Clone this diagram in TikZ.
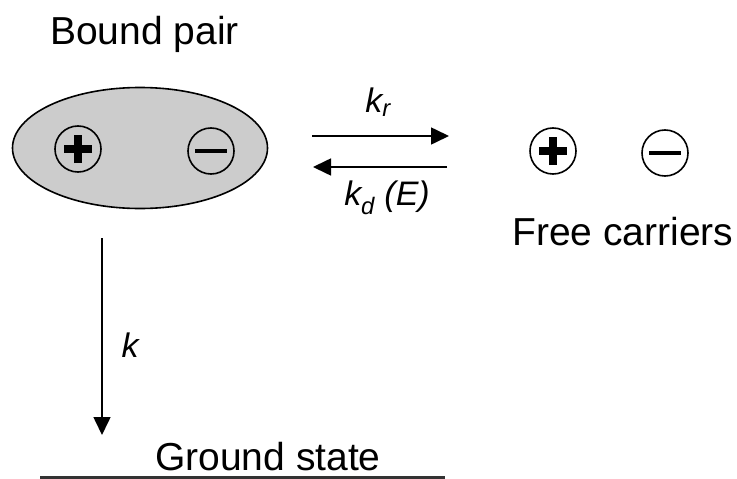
\documentclass[tikz,border=0pt]{standalone}
\usepackage{fontspec}
\setmainfont{Liberation Sans}
\usetikzlibrary{arrows.meta,shapes.geometric}
\tikzset{
	charge/.style={circle, draw, line width=1.6pt, minimum size=46pt, inner sep=0pt},
	plus/.style={charge, path picture={
			\draw[line width=8pt] (path picture bounding box.center) ++(-14pt,0pt) -- ++(28pt,0pt);
			\draw[line width=8pt] (path picture bounding box.center) ++(0pt,-14pt) -- ++(0pt,28pt);}},
	minus/.style={charge, path picture={
			\draw[line width=4.5pt] (path picture bounding box.center) ++(-16pt,0pt) -- ++(32pt,0pt);}},
	rate/.style={line width=1.6pt, -{Triangle[length=18pt,width=17pt]}},
	big/.style={font=\fontsize{39}{46}\selectfont, inner sep=0pt},
	lbl/.style={font=\fontsize{34}{40}\selectfont\itshape, inner sep=0pt}
}
\begin{document}
\begin{tikzpicture}[x=1pt, y=-1pt, line join=round]
	\useasboundingbox (0,0) rectangle (737,479);
	% Cap gan ket
	\node[ellipse, draw, line width=1.6pt, fill=gray!40, minimum width=255pt, minimum height=121pt] (pair) at (140,148) {};
	\node[plus] (h1) at (78,149) {};
	\node[minus] (e1) at (211,151) {};
	\node[big, anchor=base west] (tpair) at (50,45) {Bound pair};
	
	% Hat tai tu do
	\node[plus] (h2) at (553,151) {};
	\node[minus] (e2) at (665,153) {};
	\node[big, anchor=base west] (tfree) at (512,245) {Free carriers};
	
	% Cac diem dau mui ten
	\coordinate (r1) at (312,136);
	\coordinate (r2) at (449,136);
	\coordinate (d1) at (447,167);
	\coordinate (d2) at (313,167);
	\coordinate (g1) at (102,238);
	\coordinate (g2) at (102,435);
	
	% Cac mui ten
	\draw[rate] (r1) -- (r2);
	\draw[rate] (d1) -- (d2);
	\draw[rate] (g1) -- (g2);
	
	% Hang so toc do
	\node[lbl] (kr) at (378,102) {k\textsubscript{r}};
	\node[lbl] (kd) at (387,198) {k\textsubscript{d} (E)};
	\node[lbl] (k) at (130,345) {k};
	
	% Trang thai co ban
	\node[big, anchor=base west] (tground) at (155,470) {Ground state};
	\coordinate (l1) at (40,477);
	\coordinate (l2) at (445,477);
	\draw[line width=3pt, black!80] (l1) -- (l2);
\end{tikzpicture}
\end{document}
